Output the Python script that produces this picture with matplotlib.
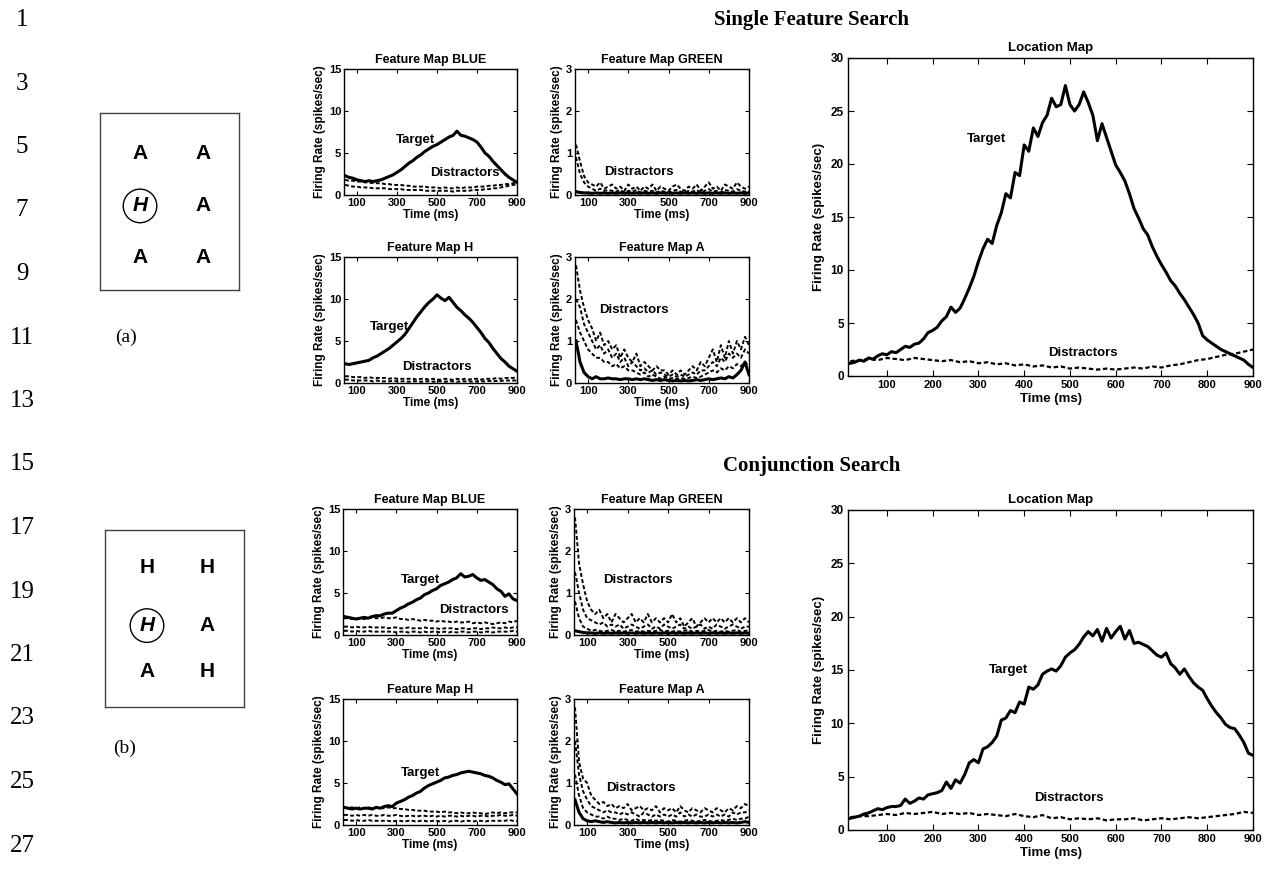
import matplotlib
matplotlib.use("Agg")
import matplotlib.pyplot as plt

plt.rcParams['font.family'] = ['Liberation Sans', 'DejaVu Sans']
plt.rcParams['font.weight'] = 'bold'
plt.rcParams['axes.titleweight'] = 'bold'
plt.rcParams['axes.labelweight'] = 'bold'

# ---- data ----
T_SMALL = list(range(40, 901, 20))      # 44 samples, feature maps
T_LOC = list(range(20, 901, 10))        # 89 samples, location map target
T_LOC_D = list(range(20, 901, 20))      # 45 samples, location map distractors

# Single feature search
sf_blue_target = [2.3, 2.1, 2.0, 1.8, 1.7, 1.6, 1.7, 1.6, 1.7, 1.8,
                  2.0, 2.2, 2.4, 2.7, 3.0, 3.4, 3.8, 4.1, 4.5, 4.8,
                  5.2, 5.5, 5.8, 6.0, 6.3, 6.6, 6.9, 7.1, 7.6, 7.1,
                  7.0, 6.8, 6.6, 6.3, 5.7, 5.0, 4.6, 4.0, 3.5, 3.0,
                  2.5, 2.1, 1.8, 1.5]
sf_blue_dist1 = [1.8, 1.7, 1.7, 1.6, 1.6, 1.5, 1.5, 1.4, 1.4, 1.4,
                 1.3, 1.3, 1.2, 1.2, 1.2, 1.1, 1.1, 1.0, 1.0, 1.0,
                 1.0, 0.9, 0.9, 0.9, 0.8, 0.9, 0.8, 0.8, 0.9, 0.8,
                 0.9, 0.9, 0.9, 1.0, 1.0, 1.0, 1.1, 1.1, 1.2, 1.2,
                 1.3, 1.3, 1.4, 1.5]
sf_blue_dist2 = [1.2, 1.1, 1.0, 1.0, 0.9, 0.9, 0.9, 0.8, 0.8, 0.8,
                 0.8, 0.7, 0.7, 0.7, 0.7, 0.6, 0.6, 0.6, 0.6, 0.6,
                 0.5, 0.5, 0.5, 0.5, 0.5, 0.5, 0.5, 0.4, 0.5, 0.5,
                 0.5, 0.5, 0.6, 0.6, 0.6, 0.7, 0.7, 0.8, 0.8, 0.9,
                 1.0, 1.1, 1.2, 1.3]

sf_green_target = [0.08, 0.06, 0.05, 0.05, 0.04, 0.05, 0.04, 0.05, 0.04, 0.05,
                   0.04, 0.05, 0.04, 0.05, 0.04, 0.05, 0.04, 0.05, 0.04, 0.05,
                   0.04, 0.05, 0.04, 0.05, 0.04, 0.05, 0.04, 0.05, 0.04, 0.05,
                   0.04, 0.05, 0.04, 0.05, 0.04, 0.05, 0.04, 0.05, 0.04, 0.05,
                   0.04, 0.05, 0.04, 0.05]
sf_green_dist1 = [1.2, 0.8, 0.45, 0.3, 0.25, 0.2, 0.3, 0.15, 0.2, 0.25,
                  0.15, 0.2, 0.1, 0.25, 0.15, 0.2, 0.1, 0.2, 0.15, 0.25,
                  0.1, 0.2, 0.15, 0.1, 0.2, 0.25, 0.15, 0.1, 0.2, 0.15,
                  0.25, 0.1, 0.2, 0.3, 0.15, 0.2, 0.1, 0.25, 0.2, 0.15,
                  0.3, 0.2, 0.15, 0.2]
sf_green_dist2 = [0.9, 0.5, 0.3, 0.2, 0.15, 0.1, 0.15, 0.1, 0.12, 0.1,
                  0.08, 0.12, 0.06, 0.1, 0.08, 0.12, 0.06, 0.1, 0.08, 0.1,
                  0.06, 0.1, 0.08, 0.06, 0.1, 0.12, 0.08, 0.06, 0.1, 0.08,
                  0.12, 0.06, 0.1, 0.14, 0.08, 0.1, 0.06, 0.12, 0.1, 0.08,
                  0.14, 0.1, 0.08, 0.1]

sf_h_target = [2.3, 2.2, 2.3, 2.4, 2.5, 2.6, 2.7, 3.0, 3.2, 3.5,
               3.8, 4.1, 4.5, 4.9, 5.3, 5.8, 6.5, 7.2, 7.9, 8.5,
               9.1, 9.6, 10.0, 10.5, 10.1, 9.8, 10.2, 9.6, 9.0, 8.6,
               8.1, 7.7, 7.2, 6.6, 6.0, 5.3, 4.8, 4.1, 3.5, 2.9,
               2.5, 2.0, 1.7, 1.4]
sf_h_dist1 = [0.8, 0.8, 0.7, 0.7, 0.7, 0.6, 0.7, 0.6, 0.6, 0.6,
              0.6, 0.5, 0.6, 0.5, 0.5, 0.5, 0.5, 0.5, 0.4, 0.5,
              0.5, 0.4, 0.5, 0.4, 0.4, 0.5, 0.4, 0.4, 0.5, 0.4,
              0.5, 0.4, 0.5, 0.5, 0.4, 0.5, 0.5, 0.5, 0.6, 0.5,
              0.6, 0.6, 0.6, 0.7]
sf_h_dist2 = [0.4, 0.4, 0.3, 0.3, 0.3, 0.3, 0.3, 0.2, 0.3, 0.2,
              0.2, 0.2, 0.25, 0.2, 0.2, 0.2, 0.15, 0.2, 0.2, 0.15,
              0.2, 0.2, 0.15, 0.2, 0.2, 0.15, 0.2, 0.2, 0.15, 0.2,
              0.2, 0.2, 0.15, 0.2, 0.2, 0.2, 0.25, 0.2, 0.25, 0.25,
              0.3, 0.3, 0.3, 0.3]

sf_a_target = [1.0, 0.5, 0.25, 0.15, 0.1, 0.15, 0.1, 0.1, 0.12, 0.1,
               0.1, 0.08, 0.1, 0.1, 0.08, 0.1, 0.08, 0.1, 0.08, 0.06,
               0.08, 0.06, 0.08, 0.06, 0.05, 0.06, 0.05, 0.06, 0.05, 0.06,
               0.08, 0.06, 0.08, 0.1, 0.08, 0.1, 0.12, 0.1, 0.15, 0.12,
               0.2, 0.3, 0.5, 0.2]
sf_a_dist1 = [2.8, 2.2, 1.8, 1.5, 1.3, 1.0, 1.2, 0.9, 1.0, 0.8,
              0.9, 0.6, 0.8, 0.6, 0.5, 0.7, 0.4, 0.5, 0.4, 0.3,
              0.4, 0.3, 0.3, 0.2, 0.3, 0.2, 0.3, 0.2, 0.3, 0.4,
              0.3, 0.5, 0.4, 0.6, 0.8, 0.5, 0.9, 0.6, 1.0, 0.7,
              1.0, 0.8, 1.1, 0.9]
sf_a_dist2 = [2.0, 1.8, 1.4, 1.2, 1.0, 0.8, 0.9, 0.7, 0.8, 0.6,
              0.7, 0.5, 0.6, 0.4, 0.5, 0.4, 0.3, 0.35, 0.25, 0.3,
              0.2, 0.25, 0.2, 0.15, 0.2, 0.15, 0.2, 0.15, 0.2, 0.25,
              0.2, 0.3, 0.3, 0.4, 0.5, 0.4, 0.6, 0.5, 0.7, 0.6,
              0.7, 0.6, 0.8, 0.7]
sf_a_dist3 = [1.5, 1.2, 1.0, 0.8, 0.7, 0.6, 0.6, 0.5, 0.5, 0.4,
              0.45, 0.35, 0.4, 0.3, 0.3, 0.25, 0.2, 0.25, 0.15, 0.2,
              0.15, 0.1, 0.15, 0.1, 0.12, 0.1, 0.12, 0.1, 0.12, 0.15,
              0.12, 0.15, 0.2, 0.25, 0.3, 0.25, 0.35, 0.3, 0.4, 0.35,
              0.45, 0.4, 0.5, 0.4]

sf_loc_target = [1.2, 1.3, 1.5, 1.4, 1.7, 1.6, 1.9, 2.1, 2.0, 2.3,
                 2.2, 2.5, 2.8, 2.7, 3.0, 3.1, 3.5, 4.1, 4.3, 4.6,
                 5.2, 5.6, 6.5, 6.0, 6.4, 7.3, 8.3, 9.4, 10.8, 12.0,
                 12.9, 12.5, 14.2, 15.4, 17.2, 16.8, 19.2, 18.9, 21.8, 21.2,
                 23.4, 22.6, 23.9, 24.6, 26.2, 25.4, 25.6, 27.4, 25.6, 25.0,
                 25.6, 26.8, 25.8, 24.6, 22.2, 23.8, 22.5, 21.2, 19.9, 19.2,
                 18.4, 17.2, 15.8, 14.9, 13.9, 13.3, 12.2, 11.3, 10.5, 9.8,
                 9.0, 8.5, 7.8, 7.2, 6.5, 5.8, 5.0, 3.8, 3.4, 3.1,
                 2.8, 2.5, 2.3, 2.1, 1.9, 1.7, 1.5, 1.1, 0.8]
sf_loc_dist = [1.4, 1.5, 1.6, 1.5, 1.7, 1.6, 1.5, 1.7, 1.6, 1.5,
               1.4, 1.5, 1.3, 1.4, 1.2, 1.3, 1.1, 1.2, 1.0, 1.1,
               0.9, 1.0, 0.8, 0.9, 0.7, 0.8, 0.7, 0.6, 0.7, 0.6,
               0.7, 0.8, 0.7, 0.9, 0.8, 1.0, 1.1, 1.3, 1.5, 1.6,
               1.8, 2.0, 2.1, 2.3, 2.5]

# Conjunction search
cj_blue_target = [2.2, 2.1, 2.0, 1.9, 2.0, 2.1, 2.0, 2.2, 2.3, 2.3,
                  2.5, 2.6, 2.6, 2.9, 3.2, 3.4, 3.7, 3.9, 4.2, 4.4,
                  4.8, 5.0, 5.3, 5.5, 5.9, 6.1, 6.3, 6.6, 6.8, 7.3,
                  6.9, 7.0, 7.2, 6.8, 6.5, 6.6, 6.3, 6.0, 5.5, 5.2,
                  4.6, 4.9, 4.3, 4.1]
cj_blue_dist1 = [2.0, 2.0, 1.9, 2.0, 2.0, 1.9, 2.0, 2.1, 2.0, 2.0,
                 2.1, 2.0, 2.0, 2.1, 1.9, 1.9, 1.8, 1.9, 1.8, 1.7,
                 1.8, 1.7, 1.7, 1.6, 1.7, 1.6, 1.6, 1.5, 1.6, 1.5,
                 1.5, 1.6, 1.4, 1.5, 1.4, 1.5, 1.4, 1.3, 1.4, 1.5,
                 1.4, 1.6, 1.5, 1.7]
cj_blue_dist2 = [1.0, 1.0, 0.9, 1.0, 0.9, 0.9, 1.0, 0.9, 0.9, 0.9,
                 0.9, 0.8, 0.9, 0.9, 0.8, 0.8, 0.9, 0.8, 0.8, 0.8,
                 0.9, 0.8, 0.8, 0.8, 0.7, 0.8, 0.8, 0.8, 0.7, 0.8,
                 0.8, 0.7, 0.8, 0.8, 0.7, 0.8, 0.8, 0.9, 0.8, 0.8,
                 0.9, 0.8, 0.9, 0.9]
cj_blue_dist3 = [0.5, 0.5, 0.4, 0.5, 0.4, 0.4, 0.5, 0.4, 0.4, 0.4,
                 0.4, 0.4, 0.4, 0.3, 0.4, 0.4, 0.3, 0.4, 0.4, 0.3,
                 0.4, 0.3, 0.4, 0.4, 0.3, 0.4, 0.3, 0.4, 0.3, 0.4,
                 0.4, 0.3, 0.4, 0.4, 0.3, 0.4, 0.4, 0.3, 0.4, 0.4,
                 0.4, 0.4, 0.5, 0.4]

cj_green_target = [0.1, 0.08, 0.06, 0.05, 0.05, 0.04, 0.05, 0.04, 0.05, 0.04,
                   0.05, 0.04, 0.05, 0.04, 0.05, 0.04, 0.05, 0.04, 0.05, 0.04,
                   0.05, 0.04, 0.05, 0.04, 0.05, 0.04, 0.05, 0.04, 0.05, 0.04,
                   0.05, 0.04, 0.05, 0.04, 0.05, 0.04, 0.05, 0.04, 0.05, 0.04,
                   0.05, 0.04, 0.05, 0.04]
cj_green_dist1 = [2.8, 1.7, 1.2, 0.8, 0.6, 0.5, 0.6, 0.4, 0.5, 0.3,
                  0.5, 0.4, 0.3, 0.4, 0.5, 0.3, 0.4, 0.3, 0.5, 0.3,
                  0.4, 0.3, 0.4, 0.3, 0.5, 0.3, 0.4, 0.2, 0.3, 0.4,
                  0.2, 0.3, 0.4, 0.3, 0.4, 0.3, 0.4, 0.3, 0.4, 0.3,
                  0.4, 0.3, 0.4, 0.3]
cj_green_dist2 = [1.5, 1.0, 0.6, 0.4, 0.35, 0.3, 0.25, 0.3, 0.2, 0.25,
                  0.2, 0.25, 0.15, 0.2, 0.25, 0.2, 0.15, 0.2, 0.25, 0.15,
                  0.2, 0.15, 0.25, 0.2, 0.15, 0.2, 0.25, 0.15, 0.2, 0.15,
                  0.2, 0.25, 0.15, 0.2, 0.15, 0.25, 0.2, 0.15, 0.2, 0.25,
                  0.2, 0.15, 0.2, 0.2]
cj_green_dist3 = [0.8, 0.4, 0.2, 0.15, 0.1, 0.12, 0.1, 0.08, 0.1, 0.12,
                  0.08, 0.1, 0.08, 0.1, 0.12, 0.08, 0.1, 0.08, 0.1, 0.08,
                  0.1, 0.12, 0.08, 0.1, 0.08, 0.1, 0.08, 0.1, 0.12, 0.08,
                  0.1, 0.08, 0.1, 0.12, 0.08, 0.1, 0.08, 0.1, 0.08, 0.1,
                  0.12, 0.08, 0.1, 0.1]

cj_h_target = [2.1, 2.0, 1.9, 2.0, 1.9, 2.0, 2.0, 1.9, 2.1, 2.0,
               2.2, 2.3, 2.2, 2.6, 2.8, 3.0, 3.3, 3.5, 3.8, 4.0,
               4.4, 4.7, 4.9, 5.1, 5.3, 5.6, 5.7, 5.9, 6.0, 6.2,
               6.3, 6.4, 6.3, 6.2, 6.1, 5.9, 5.8, 5.6, 5.3, 5.1,
               4.8, 4.9, 4.3, 3.7]
cj_h_dist1 = [2.1, 2.0, 2.1, 2.0, 2.1, 2.0, 2.1, 2.0, 2.1, 2.0,
              2.0, 2.1, 2.0, 2.0, 1.9, 1.9, 1.8, 1.8, 1.7, 1.7,
              1.7, 1.6, 1.6, 1.6, 1.5, 1.6, 1.5, 1.5, 1.4, 1.5,
              1.4, 1.4, 1.5, 1.4, 1.4, 1.3, 1.4, 1.5, 1.4, 1.5,
              1.4, 1.5, 1.5, 1.5]
cj_h_dist2 = [1.2, 1.2, 1.1, 1.2, 1.1, 1.2, 1.1, 1.2, 1.1, 1.1,
              1.2, 1.1, 1.1, 1.2, 1.1, 1.0, 1.1, 1.1, 1.0, 1.1,
              1.1, 1.0, 1.1, 1.0, 1.1, 1.0, 1.1, 1.1, 1.0, 1.1,
              1.0, 1.1, 1.1, 1.0, 1.1, 1.1, 1.0, 1.1, 1.1, 1.2,
              1.1, 1.1, 1.2, 1.1]
cj_h_dist3 = [0.6, 0.6, 0.5, 0.6, 0.5, 0.5, 0.6, 0.5, 0.5, 0.5,
              0.5, 0.5, 0.4, 0.5, 0.5, 0.4, 0.5, 0.5, 0.4, 0.5,
              0.5, 0.4, 0.5, 0.5, 0.4, 0.5, 0.4, 0.5, 0.5, 0.4,
              0.5, 0.5, 0.4, 0.5, 0.5, 0.4, 0.5, 0.5, 0.5, 0.5,
              0.5, 0.6, 0.5, 0.5]

cj_a_target = [0.6, 0.3, 0.15, 0.1, 0.08, 0.1, 0.08, 0.06, 0.08, 0.06,
               0.05, 0.06, 0.05, 0.06, 0.05, 0.06, 0.05, 0.06, 0.05, 0.06,
               0.05, 0.06, 0.05, 0.06, 0.05, 0.06, 0.05, 0.06, 0.05, 0.06,
               0.05, 0.06, 0.05, 0.06, 0.05, 0.06, 0.05, 0.06, 0.05, 0.06,
               0.05, 0.06, 0.08, 0.06]
cj_a_dist1 = [2.8, 1.5, 1.1, 1.0, 0.7, 0.6, 0.5, 0.55, 0.45, 0.5,
              0.4, 0.45, 0.4, 0.5, 0.35, 0.4, 0.45, 0.35, 0.4, 0.35,
              0.45, 0.3, 0.4, 0.35, 0.4, 0.3, 0.45, 0.35, 0.3, 0.4,
              0.35, 0.3, 0.4, 0.35, 0.3, 0.4, 0.35, 0.3, 0.4, 0.35,
              0.45, 0.4, 0.5, 0.45]
cj_a_dist2 = [2.0, 1.2, 0.8, 0.6, 0.45, 0.4, 0.35, 0.3, 0.35, 0.3,
              0.3, 0.25, 0.3, 0.25, 0.3, 0.25, 0.2, 0.3, 0.25, 0.2,
              0.25, 0.2, 0.25, 0.2, 0.25, 0.2, 0.3, 0.2, 0.25, 0.2,
              0.25, 0.2, 0.2, 0.25, 0.2, 0.25, 0.2, 0.25, 0.2, 0.3,
              0.25, 0.3, 0.3, 0.35]
cj_a_dist3 = [1.2, 0.7, 0.4, 0.3, 0.25, 0.2, 0.2, 0.15, 0.2, 0.15,
              0.15, 0.12, 0.15, 0.12, 0.1, 0.15, 0.1, 0.12, 0.1, 0.12,
              0.1, 0.12, 0.1, 0.08, 0.12, 0.1, 0.08, 0.1, 0.12, 0.1,
              0.08, 0.1, 0.12, 0.1, 0.08, 0.1, 0.12, 0.1, 0.12, 0.15,
              0.12, 0.15, 0.15, 0.2]

cj_loc_target = [1.1, 1.2, 1.3, 1.5, 1.6, 1.8, 2.0, 1.9, 2.1, 2.2,
                 2.2, 2.3, 2.9, 2.5, 2.7, 3.0, 2.9, 3.3, 3.4, 3.5,
                 3.7, 4.5, 3.9, 4.7, 4.4, 5.2, 6.3, 6.6, 6.3, 7.6,
                 7.8, 8.2, 8.8, 10.3, 10.5, 11.2, 11.0, 12.0, 11.8, 13.4,
                 13.2, 13.6, 14.6, 14.9, 15.1, 14.9, 15.4, 16.2, 16.6, 16.9,
                 17.4, 18.1, 18.6, 18.2, 18.8, 17.7, 18.9, 18.0, 18.6, 19.1,
                 17.9, 18.7, 17.5, 17.6, 17.4, 17.2, 16.8, 16.4, 16.2, 16.6,
                 15.6, 15.2, 14.6, 15.1, 14.4, 13.8, 13.4, 13.1, 12.3, 11.6,
                 11.0, 10.5, 9.9, 9.6, 9.5, 8.9, 8.2, 7.2, 7.0]
cj_loc_dist = [1.2, 1.3, 1.3, 1.4, 1.5, 1.4, 1.6, 1.5, 1.6, 1.7,
               1.5, 1.6, 1.5, 1.6, 1.4, 1.5, 1.4, 1.3, 1.5, 1.3,
               1.2, 1.4, 1.1, 1.2, 1.0, 1.1, 1.0, 1.1, 0.9, 1.0,
               1.0, 1.1, 0.9, 1.0, 1.1, 1.0, 1.1, 1.2, 1.1, 1.2,
               1.3, 1.4, 1.5, 1.7, 1.6]

SMALL_XTICKS = [100, 300, 500, 700, 900]
LOC_XTICKS = [100, 200, 300, 400, 500, 600, 700, 800, 900]
LINE_NUMBERS = [1, 3, 5, 7, 9, 11, 13, 15, 17, 19, 21, 23, 25, 27]
DISPLAY_A = [['A', 'A'], ['H', 'A'], ['A', 'A']]
DISPLAY_B = [['H', 'H'], ['H', 'A'], ['A', 'H']]

# ---- figure ----
W, H = 1271, 869
fig = plt.figure(figsize=(W / 100, H / 100), dpi=100)
fig.patch.set_facecolor('white')


def px_axes(x0, y0, x1, y1):
    return fig.add_axes([x0 / W, 1 - y1 / H, (x1 - x0) / W, (y1 - y0) / H])


DASH = (0, (2.0, 1.2))


def small_panel(box, title, ymax, yticks, target, dists, labels):
    ax = px_axes(*box)
    for d in dists:
        ax.plot(T_SMALL, d, color='black', lw=1.4, ls=DASH)
    ax.plot(T_SMALL, target, color='black', lw=2.2)
    ax.set_xlim(35, 900)
    ax.set_ylim(0, ymax)
    ax.set_xticks(SMALL_XTICKS)
    ax.set_yticks(yticks)
    ax.tick_params(direction='in', top=True, right=True, length=3, width=0.8,
                   labelsize=8, pad=2)
    for s in ax.spines.values():
        s.set_linewidth(1.0)
    ax.set_title(title, fontsize=9, pad=4)
    ax.set_xlabel('Time (ms)', fontsize=8.5, labelpad=1)
    ax.set_ylabel('Firing Rate (spikes/sec)', fontsize=8.5, labelpad=2)
    for txt, x, y, ha in labels:
        ax.text(x, y, txt, fontsize=9.5, ha=ha, va='center')
    return ax


def loc_panel(box, target, dist, labels):
    ax = px_axes(*box)
    ax.plot(T_LOC_D, dist, color='black', lw=1.6, ls=DASH)
    ax.plot(T_LOC, target, color='black', lw=2.2)
    ax.set_xlim(15, 900)
    ax.set_ylim(0, 30)
    ax.set_xticks(LOC_XTICKS)
    ax.set_yticks([0, 5, 10, 15, 20, 25, 30])
    ax.tick_params(direction='in', top=True, right=True, length=4, width=0.8,
                   labelsize=8, pad=3)
    ax.tick_params(axis='y', labelsize=8.5)
    for s in ax.spines.values():
        s.set_linewidth(1.0)
    ax.set_title('Location Map', fontsize=9.5, pad=5)
    ax.set_xlabel('Time (ms)', fontsize=9.5, labelpad=2)
    ax.set_ylabel('Firing Rate (spikes/sec)', fontsize=9.5, labelpad=4)
    for txt, x, y in labels:
        ax.text(x, y, txt, fontsize=9.5, ha='center', va='center')
    return ax


# Single feature search
small_panel((344, 69, 517, 195), 'Feature Map BLUE', 15, [0, 5, 10, 15],
            sf_blue_target, [sf_blue_dist1, sf_blue_dist2],
            [('Target', 390, 6.5, 'center'), ('Distractors', 640, 2.6, 'center')])
small_panel((575, 69, 749, 195), 'Feature Map GREEN', 3, [0, 1, 2, 3],
            sf_green_target, [sf_green_dist1, sf_green_dist2],
            [('Distractors', 355, 0.55, 'center')])
small_panel((344, 257, 517, 383), 'Feature Map H', 15, [0, 5, 10, 15],
            sf_h_target, [sf_h_dist1, sf_h_dist2],
            [('Target', 165, 6.7, 'left'), ('Distractors', 500, 1.9, 'center')])
small_panel((575, 257, 749, 383), 'Feature Map A', 3, [0, 1, 2, 3],
            sf_a_target, [sf_a_dist1, sf_a_dist2, sf_a_dist3],
            [('Distractors', 330, 1.74, 'center')])
loc_panel((848, 58, 1253, 376), sf_loc_target, sf_loc_dist,
          [('Target', 317, 22.4), ('Distractors', 529, 2.2)])

# Conjunction search
small_panel((343, 509, 517, 635), 'Feature Map BLUE', 15, [0, 5, 10, 15],
            cj_blue_target, [cj_blue_dist1, cj_blue_dist2, cj_blue_dist3],
            [('Target', 420, 6.5, 'center'), ('Distractors', 685, 3.0, 'center')])
small_panel((574, 509, 749, 635), 'Feature Map GREEN', 3, [0, 1, 2, 3],
            cj_green_target, [cj_green_dist1, cj_green_dist2, cj_green_dist3],
            [('Distractors', 350, 1.3, 'center')])
small_panel((343, 699, 517, 825), 'Feature Map H', 15, [0, 5, 10, 15],
            cj_h_target, [cj_h_dist1, cj_h_dist2, cj_h_dist3],
            [('Target', 420, 6.2, 'center')])
small_panel((574, 699, 749, 825), 'Feature Map A', 3, [0, 1, 2, 3],
            cj_a_target, [cj_a_dist1, cj_a_dist2, cj_a_dist3],
            [('Distractors', 365, 0.88, 'center')])
loc_panel((848, 510, 1253, 830), cj_loc_target, cj_loc_dist,
          [('Target', 365, 15.0), ('Distractors', 498, 3.0)])

# section titles
fig.text(812 / W, 1 - 20 / H, 'Single Feature Search', family='Liberation Serif',
         fontsize=15, weight='bold', ha='center', va='center')
fig.text(812 / W, 1 - 466 / H, 'Conjunction Search', family='Liberation Serif',
         fontsize=15, weight='bold', ha='center', va='center')

# line numbers in the margin
for k, n in enumerate(LINE_NUMBERS):
    fig.text(22 / W, 1 - (20 + 63.5 * k) / H, str(n), family='Liberation Serif',
             fontsize=18, weight='normal', ha='center', va='center')


# search displays
def display_box(box, letters, cols_x, rows_y, tag, tag_xy):
    ax = px_axes(*box)
    ax.set_xticks([])
    ax.set_yticks([])
    for s in ax.spines.values():
        s.set_linewidth(1.0)
        s.set_color('#444444')
    ax.set_xlim(0, 1)
    ax.set_ylim(0, 1)
    for r, row in enumerate(letters):
        for c, ch in enumerate(row):
            if r == 1 and c == 0:
                ax.text(cols_x[c], rows_y[r], ch, fontsize=15, style='italic',
                        weight='bold', ha='center', va='center',
                        bbox=dict(boxstyle='circle,pad=0.35', fc='none',
                                  ec='black', lw=1.0))
            else:
                ax.text(cols_x[c], rows_y[r], ch, fontsize=15, weight='bold',
                        ha='center', va='center')
    fig.text(tag_xy[0] / W, 1 - tag_xy[1] / H, tag, family='Liberation Serif',
             fontsize=14, weight='normal', ha='center', va='center')


display_box((100, 113, 239, 290), DISPLAY_A, [0.288, 0.741],
            [0.774, 0.475, 0.181], '(a)', (126, 337))
display_box((105, 530, 244, 707), DISPLAY_B, [0.302, 0.734],
            [0.79, 0.46, 0.20], '(b)', (125, 748))

fig.savefig('out.png', dpi=100, facecolor='white')
